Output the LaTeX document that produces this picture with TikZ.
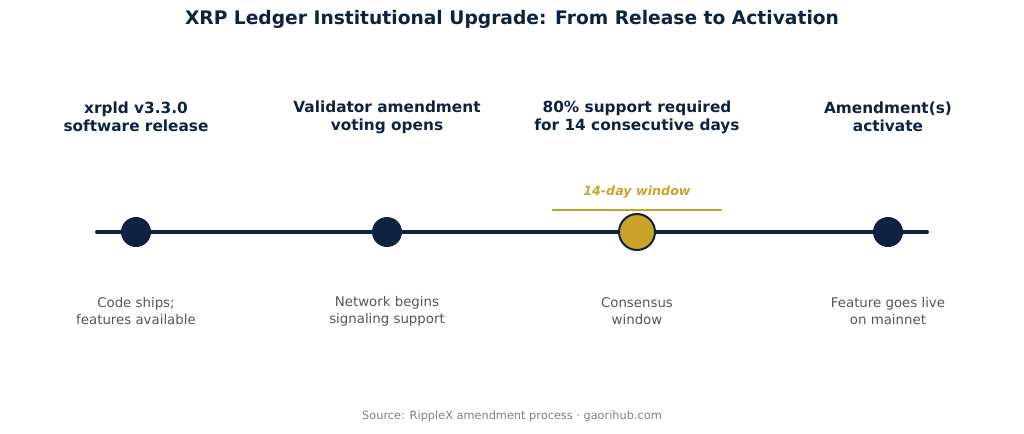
\documentclass[tikz,border=0pt]{standalone}
\usepackage{fontspec}
\setmainfont{DejaVu Sans}
\begin{document}
\begin{tikzpicture}[x=0.75pt,y=-0.75pt,
  navy/.style={color={rgb,255:red,15;green,34;blue,64}},
  head/.style={font=\bfseries\fontsize{11.5}{13.5}\selectfont,text=navyc,align=center},
  sub/.style={font=\fontsize{10}{12.5}\selectfont,text=greyc,align=center},
  dot/.style={circle,fill=navyc,minimum size=22.5pt,inner sep=0pt}]
\definecolor{navyc}{RGB}{15,34,64}
\definecolor{goldc}{RGB}{201,162,39}
\definecolor{greyc}{RGB}{85,85,85}
\useasboundingbox (0,0) rectangle (1024,433);
\node[font=\bfseries\fontsize{14}{16}\selectfont,text=navyc] (title) at (512,19) {XRP Ledger Institutional Upgrade: From Release to Activation};
\coordinate (L) at (97,232); \coordinate (R) at (927,232);
\draw[navyc,line width=3pt,line cap=round] (L) -- (R);
\node[dot] (a) at (136,232) {};
\node[dot] (b) at (387,232) {};
\node[circle,fill=goldc,draw=navyc,line width=1.5pt,minimum size=27pt,inner sep=0pt] (c) at (637,232) {};
\node[dot] (d) at (888,232) {};
\coordinate (g1) at (552,210); \coordinate (g2) at (722,210);
\draw[goldc,line width=1.5pt] (g1) -- (g2);
\node[font=\bfseries\itshape\fontsize{9.5}{11}\selectfont,text=goldc] (win) at (637,192) {14-day window};
\node[head] (ha) at (136,117) {xrpld v3.3.0\\software release};
\node[head] (hb) at (387,117) {Validator amendment\\voting opens};
\node[head] (hc) at (637,117) {80\% support required\\for 14 consecutive days};
\node[head] (hd) at (888,117) {Amendment(s)\\activate};
\node[sub] (sa) at (136,311) {Code ships;\\features available};
\node[sub] (sb) at (387,311) {Network begins\\signaling support};
\node[sub] (sc) at (637,311) {Consensus\\window};
\node[sub] (sd) at (888,311) {Feature goes live\\on mainnet};
\node[font=\fontsize{8.5}{10}\selectfont,text=gray] (src) at (512,416) {Source: RippleX amendment process · gaorihub.com};
\end{tikzpicture}
\end{document}
